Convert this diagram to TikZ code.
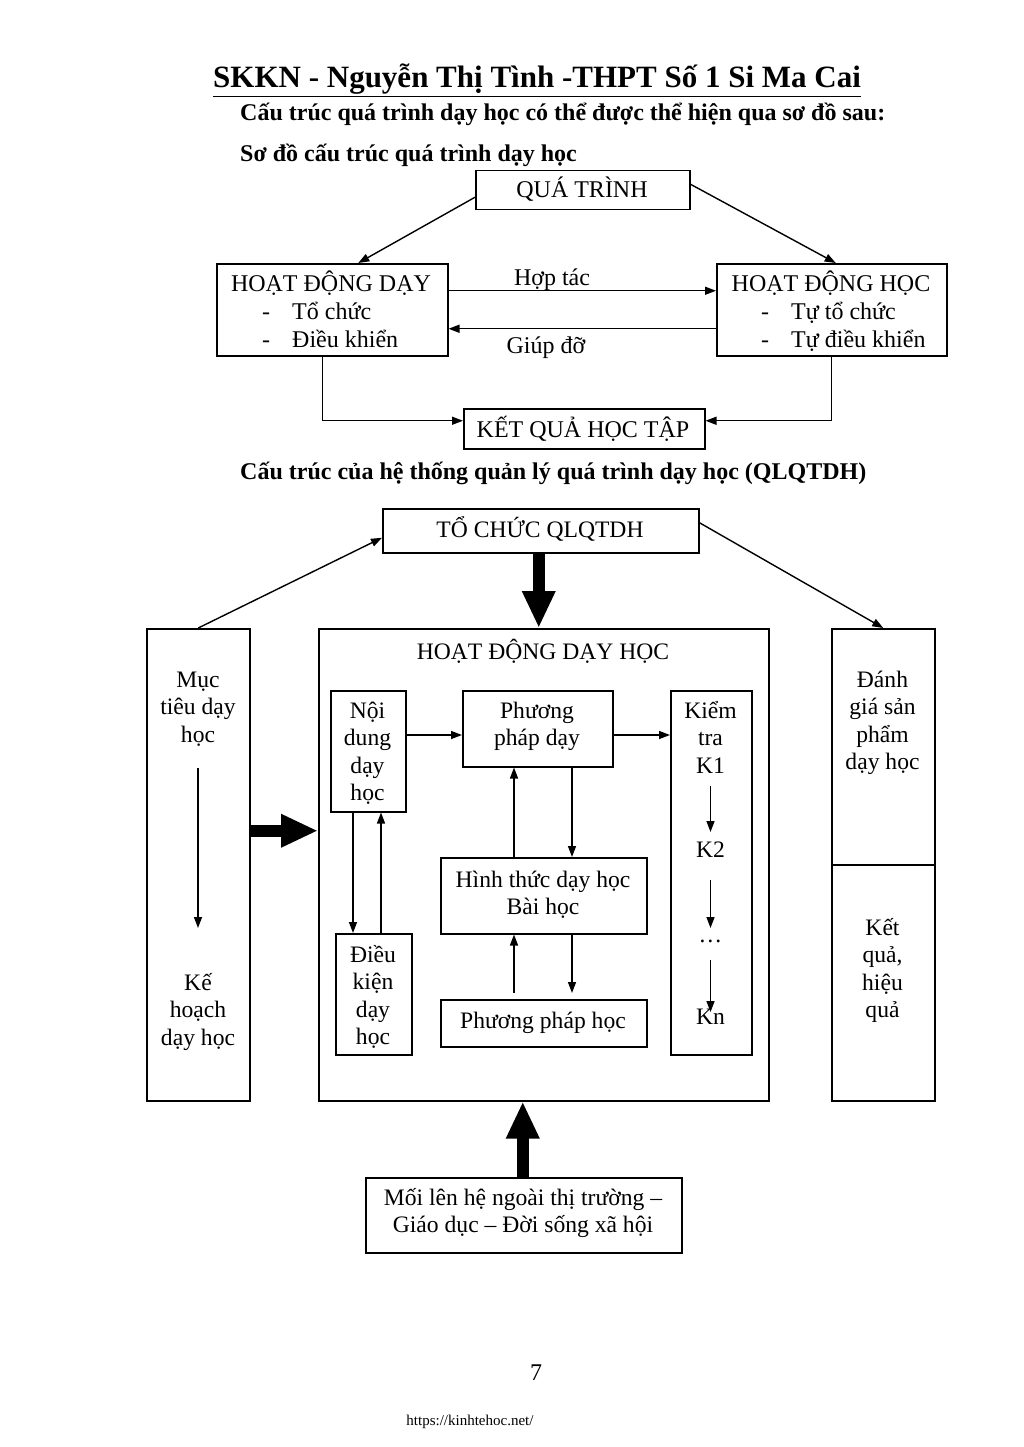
\documentclass[tikz,border=0pt]{standalone}
\usepackage{fontspec}
\setmainfont{Liberation Serif}
\usetikzlibrary{arrows.meta,calc}
\newcommand{\fA}{\fontsize{24}{27.5}\selectfont}
\newcommand{\fB}{\fontsize{23.6}{27.5}\selectfont}
\newcommand{\boxat}[5]{\node[box, minimum width={#4-#2}, minimum height={#5-#3}] (#1) at (#2,#3) {};}
\newcommand{\tl}[4]{\node[txt] (#1) at (#2,#3) {#4};}
\newcommand{\tw}[4]{\node[txt, anchor=base west] (#1) at (#2,#3) {#4};}
\begin{document}
\begin{tikzpicture}[x=1pt,y=-1pt,
  box/.style={draw, line width=1.5pt, inner sep=0, anchor=north west},
  txt/.style={inner sep=0, anchor=base, font=\fB},
  arr/.style={line width=1.4pt, -{Triangle[length=11pt,width=8pt]}},
  thick arr/.style={line width=12pt, -{Triangle[length=37pt,width=31pt]}}]
\useasboundingbox[fill=white] (0,0) rectangle (1023,1447);

% headers
\node[txt, anchor=base west, font=\fontsize{31}{36}\selectfont\bfseries] (title) at (213,88) {\underline{SKKN - Nguyễn Thị Tình -THPT Số 1 Si Ma Cai}};
\node[txt, anchor=base west, font=\fontsize{24}{28}\selectfont\bfseries] (h1) at (240,121) {Cấu trúc quá trình dạy học có thể được thể hiện qua sơ đồ sau:};
\node[txt, anchor=base west, font=\fontsize{24}{28}\selectfont\bfseries] (h2) at (240,162) {Sơ đồ cấu trúc quá trình dạy học};
\node[txt, anchor=base west, font=\fontsize{24}{28}\selectfont\bfseries] (h3) at (240,479) {Cấu trúc của hệ thống quản lý quá trình dạy học (QLQTDH)};

% ---------- diagram 1 ----------
\boxat{qt}{475}{170}{689}{209}
\boxat{hdd}{216}{263}{447}{355}
\boxat{hdh}{716}{263}{946}{355}
\boxat{kq}{463}{408}{704}{448}

\begin{scope}[txt/.append style={font=\fA}]
\tl{tqt}{582}{198}{QUÁ TRÌNH}
\tl{thdd}{331}{291}{HOẠT ĐỘNG DẠY}
\tl{d1}{266}{319}{-}
\tw{thdd1}{292}{319}{Tổ chức}
\tl{d2}{266}{347}{-}
\tw{thdd2}{292}{347}{Điều khiển}
\tl{thdh}{831}{291}{HOẠT ĐỘNG HỌC}
\tl{d3}{765}{319}{-}
\tw{thdh1}{791}{319}{Tự tổ chức}
\tl{d4}{765}{347}{-}
\tw{thdh2}{791}{347}{Tự điều khiển}
\tl{hoptac}{552}{285}{Hợp tác}
\tl{giupdo}{546}{353}{Giúp đỡ}
\tl{tkq}{583}{437}{KẾT QUẢ HỌC TẬP}
\end{scope}

\draw[arr] ([yshift=-7pt]qt.west) -- ([xshift=26pt]hdd.north);
\draw[arr] ([yshift=6pt]qt.east) -- ([xshift=4pt]hdh.north);
\draw[arr] ([yshift=19pt]hdd.east) -- ([yshift=19pt]hdh.west);
\draw[arr] ([yshift=-19pt]hdh.east -| hdh.west) -- ([yshift=-19pt]hdd.east);
\draw[arr] ([xshift=-10pt]hdd.south) |- ([yshift=8pt]kq.west);
\draw[arr] (hdh.south) |- ([yshift=8pt]kq.east);

% ---------- diagram 2 ----------
\boxat{tc}{382}{508}{698}{552}
\boxat{muc}{146}{628}{249}{1100}
\boxat{hd}{318}{628}{768}{1100}
\boxat{dg}{831}{628}{934}{864}
\boxat{kqhq}{831}{864}{934}{1100}
\boxat{nd}{330}{690}{405}{811}
\boxat{ppd}{462}{690}{612}{766}
\boxat{kt}{670}{690}{751}{1054}
\boxat{ht}{440}{857}{646}{933}
\boxat{pph}{440}{999}{646}{1046}
\boxat{dk}{335}{933}{411}{1054}
\boxat{ml}{365}{1177}{681}{1252}

\tl{ttc}{540}{537}{TỔ CHỨC QLQTDH}
\tl{thd}{543}{659}{HOẠT ĐỘNG DẠY HỌC}
\tl{m1}{198}{687}{Mục}
\tl{m2}{198}{714.5}{tiêu dạy}
\tl{m3}{198}{742}{học}
\tl{k1}{198}{990}{Kế}
\tl{k2}{198}{1017.5}{hoạch}
\tl{k3}{198}{1045}{dạy học}
\tl{n1}{367.5}{718}{Nội}
\tl{n2}{367.5}{745.5}{dung}
\tl{n3}{367.5}{773}{dạy}
\tl{n4}{367.5}{800.5}{học}
\tl{p1}{537}{718}{Phương}
\tl{p2}{537}{745.5}{pháp dạy}
\tl{q1}{710.5}{718}{Kiểm}
\tl{q2}{710.5}{745.5}{tra}
\tl{q3}{710.5}{773}{K1}
\tl{q4}{710.5}{857}{K2}
\tl{q5}{710.5}{942}{\ldots}
\tl{q6}{710.5}{1024}{Kn}
\tl{h1t}{543}{887}{Hình thức dạy học}
\tl{h2t}{543}{914.5}{Bài học}
\tl{pt}{543}{1028}{Phương pháp học}
\tl{e1}{373}{962}{Điều}
\tl{e2}{373}{989.5}{kiện}
\tl{e3}{373}{1017}{dạy}
\tl{e4}{373}{1044.5}{học}
\tl{g1}{882.5}{687}{Đánh}
\tl{g2}{882.5}{714.5}{giá sản}
\tl{g3}{882.5}{742}{phẩm}
\tl{g4}{882.5}{769.5}{dạy học}
\tl{r1}{882.5}{935}{Kết}
\tl{r2}{882.5}{962.5}{quả,}
\tl{r3}{882.5}{990}{hiệu}
\tl{r4}{882.5}{1017.5}{quả}
\tl{ml1}{523}{1205}{Mối lên hệ ngoài thị trường –}
\tl{ml2}{523}{1232.5}{Giáo dục – Đời sống xã hội}

\draw[arr] (muc.north) -- ([yshift=-7pt]tc.west);
\draw[arr] ([yshift=8pt]tc.east) -- (dg.north);
\draw[thick arr] ([xshift=-2pt]tc.south) -- ([xshift=-2pt]tc.south |- hd.north);
\draw[thick arr] ([yshift=34pt]muc.east) -- ([yshift=34pt]hd.west);
\draw[thick arr] ([xshift=-1pt]ml.north) -- ([xshift=-1pt]ml.north |- hd.south);

\coordinate (ma) at (198,768);
\coordinate (mb) at (198,928);
\draw[arr] (ma) -- (mb);

\draw[arr] ($(nd.north east)+(0,45)$) -- ($(ppd.north west)+(0,45)$);
\draw[arr] ($(ppd.north east)+(0,45)$) -- ($(kt.north west)+(0,45)$);
\draw[arr] ($(ht.north west)+(74,0)$) -- ($(ppd.south west)+(52,0)$);
\draw[arr] ($(ppd.south west)+(110,0)$) -- ($(ht.north west)+(132,0)$);
\draw[arr] ($(pph.north west)+(74,-6)$) -- ($(ht.south west)+(74,0)$);
\draw[arr] ($(ht.south west)+(132,0)$) -- ($(pph.north west)+(132,-6)$);
\draw[arr] ($(nd.south west)+(23,0)$) -- ($(dk.north west)+(18,0)$);
\draw[arr] ($(dk.north west)+(46,0)$) -- ($(nd.south west)+(51,0)$);

\coordinate (ka1) at (710.5,786);
\coordinate (kb1) at (710.5,832);
\coordinate (ka2) at (710.5,880);
\coordinate (kb2) at (710.5,928);
\coordinate (ka3) at (710.5,960);
\coordinate (kb3) at (710.5,1012);
\draw[arr] (ka1) -- (kb1);
\draw[arr] (ka2) -- (kb2);
\draw[arr] (ka3) -- (kb3);

% footer
\node[txt, font=\fontsize{24}{28}\selectfont] (pg) at (536,1380) {7};
\node[txt, font=\fontsize{15}{18}\selectfont] (url) at (470,1425) {https://kinhtehoc.net/};
\end{tikzpicture}
\end{document}
